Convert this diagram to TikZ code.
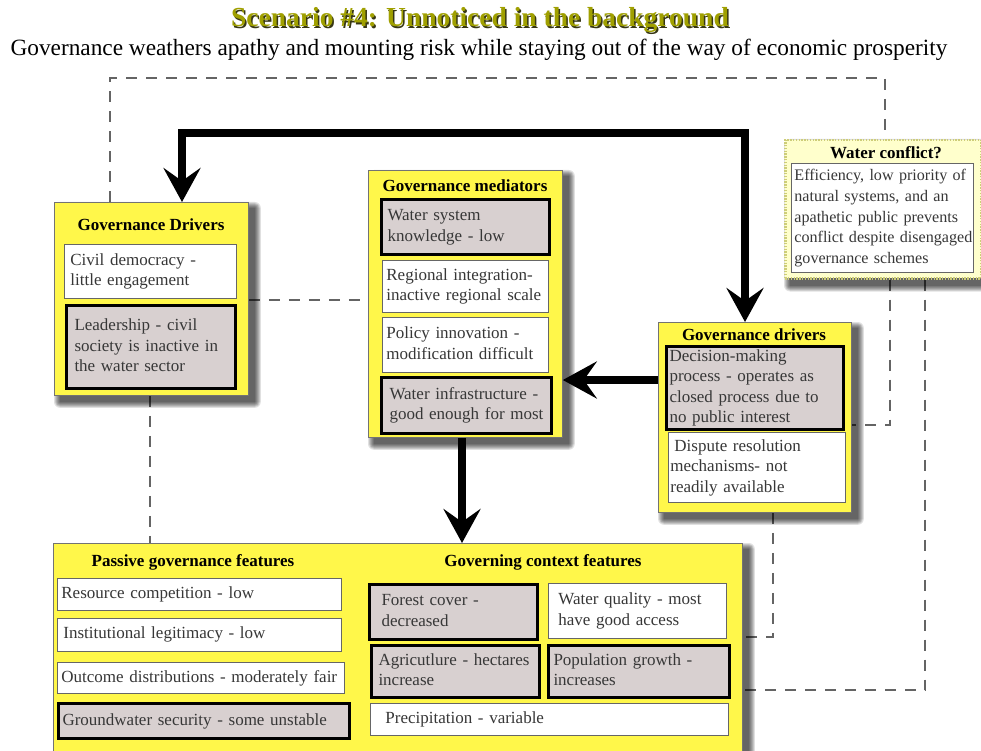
\documentclass[tikz,border=0pt]{standalone}
\usepackage{fontspec}
\setmainfont{Liberation Serif}
\usetikzlibrary{arrows.meta}

\definecolor{boxyellow}{RGB}{255,247,74}
\definecolor{hilite}{RGB}{216,208,208}
\definecolor{notepale}{RGB}{255,255,204}
\definecolor{notedot}{RGB}{205,205,120}
\definecolor{linkgray}{RGB}{100,100,100}
\definecolor{bodytext}{RGB}{55,55,55}
\definecolor{olivetitle}{RGB}{160,160,0}
\definecolor{titleshade}{RGB}{55,55,20}

\pgfdeclarelayer{paper}
\pgfdeclarelayer{links}
\pgfdeclarelayer{shade}
\pgfsetlayers{paper,links,shade,main}

% lines of a box, kept exactly as broken
\newcommand\rows[1]{\begin{tabular}{@{}l@{}}#1\end{tabular}}

% soft shadow below and right of a panel
\newcommand\castshade[1]{%
  \foreach \r in {0,...,6}{%
    \fill[black, opacity=0.12, rounded corners=\r pt]
      ([shift={(6-\r,6-\r)}]#1.north west) rectangle ([shift={(6+\r,6+\r)}]#1.south east);
  }}

\tikzset{
  sz/.code n args={3}{%
    \pgfmathsetmacro\szw{#1-2*#3}%
    \edef\szopts{minimum width=#1pt, minimum height=#2pt, inner xsep=#3pt, text width=\szw pt}%
    \expandafter\pgfkeysalso\expandafter{\szopts}},
  panel/.style={draw=black!55, line width=0.8pt, fill=boxyellow, anchor=north west, inner sep=0pt},
  note/.style={panel, draw=notedot, fill=notepale, line width=2.5pt, dash pattern=on 1.4pt off 1.4pt},
  item/.style={draw=black!60, line width=0.8pt, fill=white, anchor=north west, align=left,
    inner ysep=0pt, font=\fontsize{17}{20.5}\selectfont, text=bodytext},
  keyitem/.style={item, draw=black, line width=3pt, fill=hilite},
  heading/.style={font=\fontsize{17}{20}\selectfont\bfseries, anchor=base, inner sep=0pt},
  titlefont/.style={font=\fontsize{27.5}{30}\selectfont\bfseries, inner sep=0pt},
  link/.style={draw=linkgray, line width=1.3pt, dash pattern=on 11pt off 9pt},
  flow/.style={line width=7.5pt},
}

\begin{document}
\begin{tikzpicture}[x=1pt, y=-1pt, >={Stealth[length=34pt,width=37pt,inset=13pt]}]
\useasboundingbox (0,0) rectangle (981,751);
\begin{pgfonlayer}{paper}
  \fill[white] (0,0) rectangle (981,751);
\end{pgfonlayer}

% title and subtitle
\node[titlefont, text=titleshade] (titleback) at (481.5,21.5) {Scenario \#4: Unnoticed in the background};
\node[titlefont, text=olivetitle] (title) at (480,20) {Scenario \#4: Unnoticed in the background};
\node[font=\fontsize{23.3}{26}\selectfont, inner sep=0pt] (subtitle) at (479,50)
  {Governance weathers apathy and mounting risk while staying out of the way of economic prosperity};

% Governance Drivers (left)
\node[panel, sz={194}{193}{0}] (gd) at (54,202) {};
\node[heading] (gdh) at (151,230) {Governance Drivers};
\node[item, sz={172}{54}{6}] (gd1) at (64,244) {\rows{Civil democracy -\\ little engagement}};
\node[keyitem, sz={169}{83}{8}] (gd2) at (65,304) {\rows{Leadership - civil\\society is inactive in\\the water sector}};

% Governance mediators (centre)
\node[panel, sz={194}{267}{0}] (med) at (368,170) {};
\node[heading] (medh) at (465,192) {Governance mediators};
\node[keyitem, sz={168}{55}{6}] (m1) at (380,198) {\rows{Water system\\knowledge - low}};
\node[item, sz={166}{52}{4}] (m2) at (382,260) {\rows{Regional integration-\\inactive regional scale}};
\node[item, sz={166}{55}{4}] (m3) at (382,317) {\rows{Policy innovation -\\modification difficult}};
\node[keyitem, sz={170}{56}{8}] (m4) at (380,376) {\rows{Water infrastructure -\\good enough for most}};

% Governance drivers (right)
\node[panel, sz={193}{190}{0}] (rgd) at (658,322) {};
\node[heading] (rgdh) at (754,340) {Governance drivers};
\node[keyitem, sz={177}{83}{3}] (r1) at (665,345) {\rows{Decision-making\\process - operates as\\closed process due to\\no public interest}};
\node[item, sz={177}{70}{2}] (r2) at (668,432) {\rows{\hspace{4pt}Dispute resolution\\mechanisms- not\\readily available}};

% Water conflict note
\node[note, sz={196}{138}{0}] (wc) at (784,139) {};
\node[heading] (wch) at (886,159) {Water conflict?};
\node[item, sz={182}{109}{3}, font=\fontsize{16.1}{20.8}\selectfont] (w1) at (791,163)
  {\rows{Efficiency, low priority of\\natural systems, and an\\apathetic public prevents\\conflict despite disengaged\\governance schemes}};

% Feature panel (bottom)
\node[panel, sz={689}{215}{0}] (bot) at (53,543) {};
\node[heading] (passh) at (193,566) {Passive governance features};
\node[heading] (ctxh) at (543,566) {Governing context features};
\node[item, sz={284}{32}{4}] (p1) at (57,578) {Resource competition - low};
\node[item, sz={284}{33}{6}] (p2) at (57,618) {Institutional legitimacy - low};
\node[item, sz={287}{31}{4}] (p3) at (57,662) {Outcome distributions - moderately fair};
\node[keyitem, sz={291}{35}{4}] (p4) at (57,702) {Groundwater security - some unstable};
\node[keyitem, sz={168}{55}{12}] (c1) at (368,583) {\rows{Forest cover -\\decreased}};
\node[item, sz={178}{55}{10}] (c2) at (548,583) {\rows{Water quality - most\\have good access}};
\node[keyitem, sz={168}{52}{7}] (c3) at (370,644) {\rows{Agricutlure - hectares\\increase}};
\node[keyitem, sz={181}{52}{5}] (c4) at (547,644) {\rows{Population growth -\\increases}};
\node[item, sz={358}{32}{15}] (c5) at (370,703) {Precipitation - variable};

% panel shadows
\begin{pgfonlayer}{shade}
  \castshade{gd}
  \castshade{med}
  \castshade{rgd}
  \castshade{wc}
  \castshade{bot}
\end{pgfonlayer}

% dashed links, drawn beneath the boxes
\coordinate (k1) at (110,78);
\coordinate (k2) at (885,78);
\coordinate (k3) at (0,300);
\coordinate (k4) at (150,0);
\coordinate (k5) at (890,425);
\coordinate (k6) at (925,690);
\coordinate (k7) at (773,637);
\begin{pgfonlayer}{links}
  \draw[link] (gd.north -| k1) -- (k1) -- (k2) -- (k2 |- wc.north);
  \draw[link] (gd.east |- k3) -- (med.west |- k3);
  \draw[link] (gd.south -| k4) -- (bot.north -| k4);
  \draw[link] (wc.south -| k5) -- (k5) -- (rgd.east |- k5);
  \draw[link] (wc.south -| k6) -- (k6) -- (bot.east |- k6);
  \draw[link] (rgd.south -| k7) -- (k7) -- (bot.east |- k7);
\end{pgfonlayer}

% heavy flow arrows
\coordinate (f1) at (182,133);
\coordinate (f2) at (745,133);
\coordinate (f3) at (0,380);
\coordinate (f4) at (462,0);
\draw[flow, <->] (f1 |- gd.north) -- (f1) -- (f2) -- (f2 |- rgd.north);
\draw[flow, ->] (rgd.west |- f3) -- (med.east |- f3);
\draw[flow, ->] (med.south -| f4) -- (bot.north -| f4);
\end{tikzpicture}
\end{document}
